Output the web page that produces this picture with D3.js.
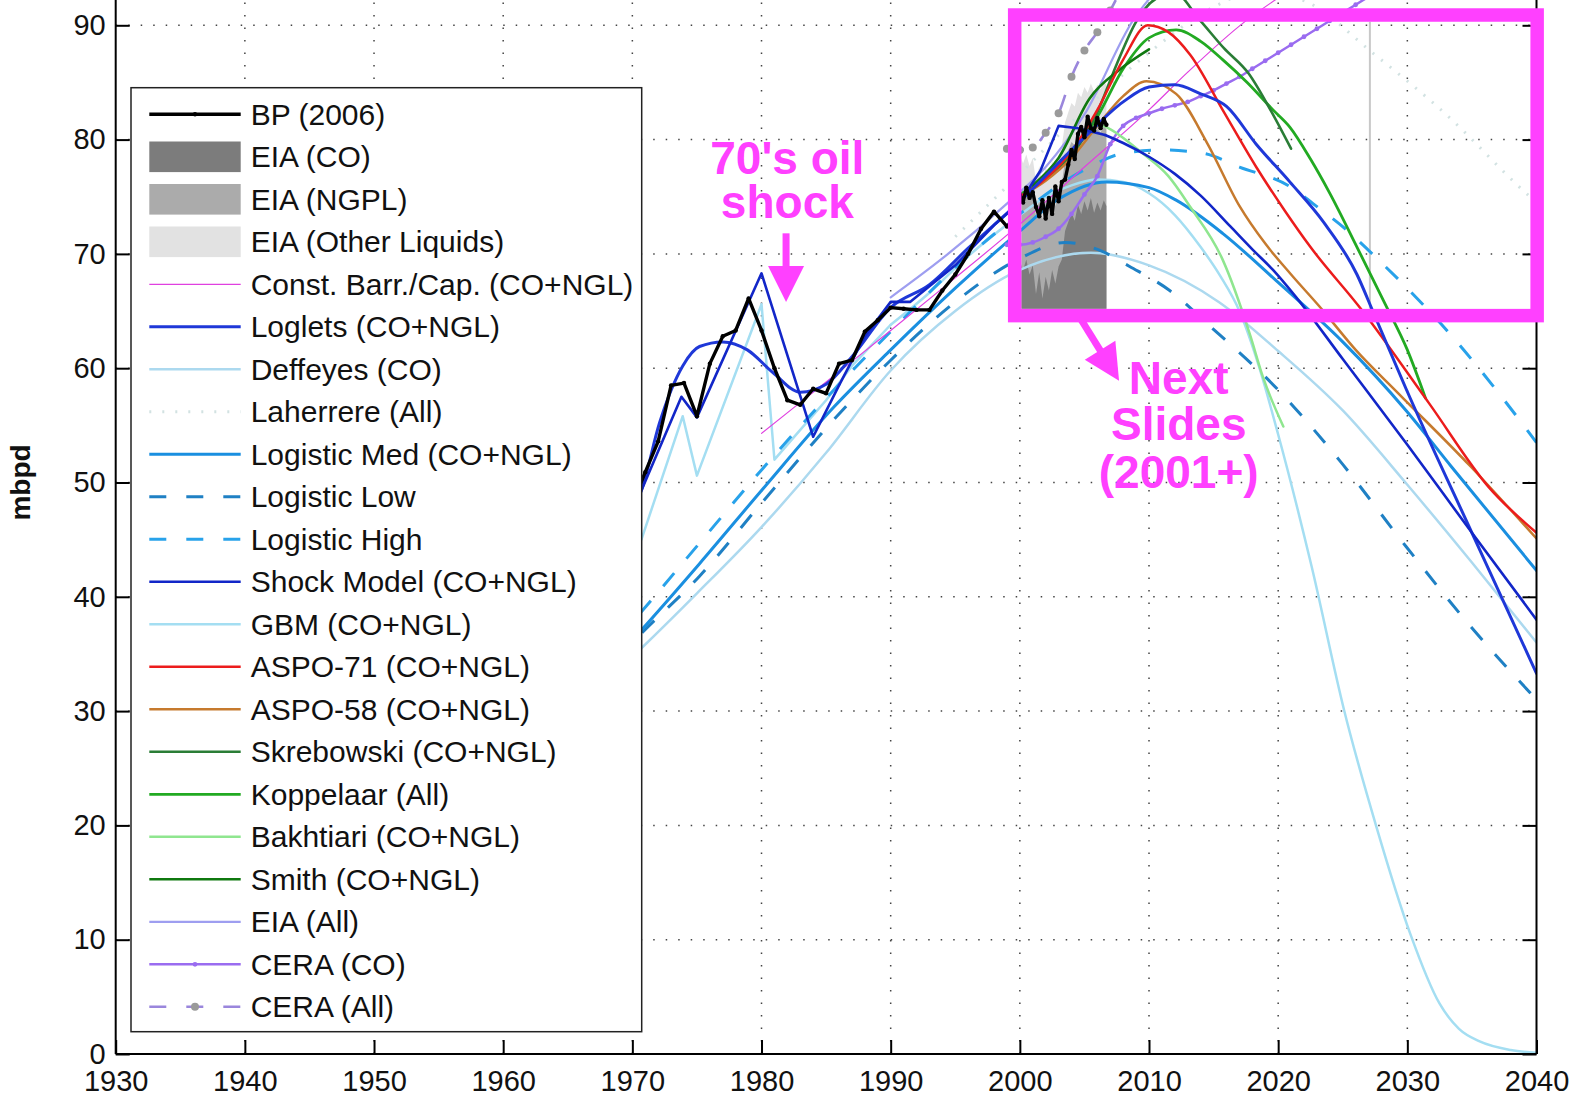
<!DOCTYPE html>
<html lang="en">
<head>
<meta charset="UTF-8">
<script src="https://d3js.org/d3.v7.min.js"></script>
<style>
    body { margin: 0; background: #fff; }
    text { font-family: "Liberation Sans", Arial, sans-serif; }
</style>
</head>
<body>
<svg id="chart" width="1590" height="1102"></svg>
<script>
// ---- axis ticks ----
const xTicks = [1930, 1940, 1950, 1960, 1970, 1980, 1990, 2000, 2010, 2020, 2030, 2040];
const yTicks = [0, 10, 20, 30, 40, 50, 60, 70, 80, 90];

// ---- legend order ----
const seriesNames = [
    "BP (2006)", "EIA (CO)", "EIA (NGPL)", "EIA (Other Liquids)",
    "Const. Barr./Cap. (CO+NGL)", "Loglets (CO+NGL)", "Deffeyes (CO)", "Laherrere (All)",
    "Logistic Med (CO+NGL)", "Logistic Low", "Logistic High", "Shock Model (CO+NGL)",
    "GBM (CO+NGL)", "ASPO-71 (CO+NGL)", "ASPO-58 (CO+NGL)", "Skrebowski (CO+NGL)",
    "Koppelaar (All)", "Bakhtiari (CO+NGL)", "Smith (CO+NGL)", "EIA (All)", "CERA (CO)", "CERA (All)"
];

// ---- data: [year, mbpd] ----
const bp = [[1965,31.8],[1966,34.6],[1967,37.1],[1968,40.4],[1969,43.6],[1970,48.1],[1971,50.9],[1972,53.6],
    [1973,58.5],[1974,58.7],[1975,55.8],[1976,60.4],[1977,62.8],[1978,63.3],[1979,66.1],[1980,63.3],[1981,60.0],
    [1982,57.2],[1983,56.8],[1984,58.2],[1985,57.8],[1986,60.4],[1987,60.7],[1988,63.2],[1989,64.2],[1990,65.3],
    [1991,65.2],[1992,65.1],[1993,65.1],[1994,66.8],[1995,68.2],[1996,70.0],[1997,72.2],[1998,73.7],[1999,72.4],
    [1999.5,73.0],[1999.75,73.8],[2000,75.2],[2000.25,74.5],[2000.5,75.8],[2000.75,74.9],[2001,75.4],[2001.25,74.1],
    [2001.5,73.3],[2001.75,74.7],[2002,73.1],[2002.25,74.9],[2002.5,73.5],[2002.75,75.9],[2003,74.6],[2003.25,76.3],
    [2003.5,76.5],[2003.75,77.8],[2004,79.1],[2004.25,78.3],[2004.5,80.5],[2004.75,81.1],[2005,80.2],[2005.25,82.0],
    [2005.5,81.0],[2005.75,80.8],[2006,81.9],[2006.25,81.0],[2006.5,81.8],[2006.7,81.3]];

const eiaQuarters = [1999.75,2000,2000.25,2000.5,2000.75,2001,2001.25,2001.5,2001.75,2002,2002.25,2002.5,2002.75,
    2003,2003.25,2003.5,2003.75,2004,2004.25,2004.5,2004.75,2005,2005.25,2005.5,2005.75,2006,2006.25,2006.5,2006.7];
const eiaCO = [69.0,69.4,68.6,69.5,68.2,69.0,66.5,68.4,66.1,68.0,66.8,68.6,67.4,68.9,69.5,72.0,72.8,73.6,72.9,
    74.3,73.5,74.6,73.8,74.9,73.6,74.5,73.8,74.7,74.2];
const eiaNGPL = [6.4,6.5,6.6,6.3,6.7,6.5,6.8,6.4,6.9,6.6,6.9,6.5,6.8,6.6,6.7,6.2,6.3,6.2,6.6,6.3,6.7,6.4,6.7,
    6.3,6.9,6.5,6.8,6.5,6.7];
const eiaOther = [2.7,2.8,2.7,2.9,2.8,2.9,3.0,2.9,3.1,3.0,3.1,3.0,3.2,3.1,3.2,3.3,3.3,3.4,3.4,3.5,3.5,3.6,3.6,
    3.7,3.7,3.8,3.8,3.9,3.9];

const constBarrCap = [[1980,54.3],[1985,58.8],[1990,63.3],[1995,67.9],[2000,72.6],[2005,77.6],[2010,82.6],
    [2013,85.9],[2017.4,90.3],[2020,92.4]];
const loglets = [[1965,40.5],[1970.7,49.3],[1972.1,55.2],[1973.9,60.2],[1975.2,61.9],[1977,62.3],[1978.9,61.6],
    [1980.9,59.6],[1983,57.9],[1985,58.6],[1987,61.0],[1990,65.3],[1993,67.3],[1996,70.5],[2000,74.6],[2005,80.2],
    [2008,83.3],[2010,84.6],[2012,84.8],[2014,84.0],[2016,82.9],[2018.3,79.6],[2020.9,76.3],[2023.5,72.8],
    [2026.1,68.2],[2027.4,64.8],[2029.9,58.2],[2035,45.6],[2040,33.3]];
const deffeyes = [[1965,29.5],[1970.7,35.5],[1975,40.3],[1980,46.1],[1985,52.6],[1990,59.8],[1995,65.0],
    [2000,68.6],[2005.5,70.1],[2010,69.0],[2015.4,65.8],[2020,61.5],[2025,56.3],[2030,49.8],[2035,43.0],[2040,36.0]];
const laherrere = [[1995,71.5],[2000,77.0],[2005,82.6],[2010,87.6],[2015,91.6],[2018.5,93.0],[2022.3,92.0],
    [2027.3,87.6],[2033,82.2],[2039.3,75.2],[2040,74.5]];
const logisticMed = [[1965,30.3],[1970.7,37.1],[1975.2,42.9],[1980,49.3],[1985.6,56.6],[1990,61.6],[1995,67.0],
    [2000,72.0],[2003,74.8],[2006.7,76.3],[2010,75.8],[2012.1,74.7],[2015.7,71.8],[2020,67.5],[2025,62.3],
    [2029.9,56.3],[2033.4,51.4],[2040,42.3]];
const logisticLow = [[1965,30.0],[1970.7,36.8],[1975.2,41.8],[1980,48.2],[1985.6,55.5],[1990,60.7],[1995,65.8],
    [2000,69.6],[2003.5,71.0],[2006.2,70.3],[2008.5,68.9],[2011.6,66.8],[2014.8,63.6],[2020,58.1],[2024.7,52.0],
    [2029.9,44.4],[2034.9,37.4],[2040,31.0]];
const logisticHigh = [[1965,31.5],[1970.7,38.7],[1975.2,44.7],[1980,51.1],[1985.6,58.1],[1990,63.2],[1995,68.8],
    [2000,73.5],[2004.9,77.3],[2008,78.8],[2011,79.1],[2014.2,78.8],[2017,77.6],[2020.9,75.9],[2022.7,74.4],
    [2025.6,71.8],[2027.1,70.2],[2029.9,67.1],[2033.3,63.0],[2036.6,58.5],[2040,53.5]];
const shockModel = [[1965,40.0],[1970.7,49.3],[1973.8,57.5],[1975,55.7],[1980,68.3],[1984,54.0],[1986,58.5],
    [1988,62.8],[1990,65.8],[1991.5,65.8],[1995,69.0],[1998,72.5],[2000,74.5],[2001.6,77.3],[2003,81.2],[2004.5,81.0],
    [2006.6,80.4],[2008,79.7],[2010,78.5],[2012,77.0],[2014,75.1],[2016.3,72.4],[2018,70.4],[2019.6,68.6],
    [2021.4,66.2],[2025,60.8],[2030,53.3],[2035,45.6],[2040,38.0]];
const gbm = [[1965,38.5],[1970.7,45.0],[1973.9,55.8],[1975.0,50.6],[1980.0,65.6],[1981.0,52.0],[1983,54.6],
    [1985,57.2],[1987,60.2],[1990,63.8],[1993,66.6],[1996,69.8],[2000,73.4],[2002,75.0],[2004,76.0],[2006,76.5],
    [2008,76.3],[2010,75.3],[2012,73.4],[2014,70.6],[2015.5,68.1],[2017,65.0],[2018.5,60.2],[2020,54.2],
    [2022.6,42.6],[2025.1,30.1],[2027.6,19.9],[2030.2,10.6],[2032.5,4.4],[2034,2.2],[2035.6,1.1],[2038,0.35],[2040,0.1]];
const aspo71 = [[2000,75.0],[2002,76.6],[2004,79.0],[2006,82.6],[2008,87.0],[2009.9,90.0],[2011.5,89.4],
    [2013.2,87.4],[2015.7,82.6],[2018.3,77.6],[2020.5,73.8],[2022.5,70.6],[2026.4,65.2],[2031.7,56.9],
    [2036.3,49.6],[2040,45.6]];
const aspo58 = [[2000,75.0],[2002,76.4],[2004,78.4],[2006,81.2],[2008,83.8],[2009.8,85.1],[2012.1,84.0],
    [2014.5,79.7],[2017.0,74.2],[2019,70.9],[2021,68.2],[2023.2,65.4],[2026,61.6],[2029.3,57.8],[2034.9,51.4],[2040,45.1]];
const skrebowski = [[2000,75.0],[2002,76.5],[2004,78.6],[2006,82.4],[2007.5,86.6],[2009,90.3],[2010.5,92.3],
    [2012,92.8],[2013.9,90.5],[2015.8,88.0],[2017.7,85.8],[2019.4,82.6],[2021.0,79.2]];
const koppelaar = [[2000,75.2],[2002,76.6],[2004,78.8],[2006,82.0],[2008,86.2],[2010,88.9],[2012.1,89.6],
    [2014,88.6],[2015.7,87.0],[2017.6,85.0],[2019.6,82.6],[2020.9,81.1],[2022.5,78.3],[2024,75.3],[2026.1,70.6],
    [2028.2,65.8],[2030,61.6],[2031.4,57.4]];
const bakhtiari = [[2005.5,81.6],[2006.7,81.1],[2009.5,78.8],[2011.5,76.8],[2013.2,74.1],[2015.7,69.5],
    [2017.8,63.0],[2018.8,59.3],[2020.4,54.9]];
const smith = [[2001,76.0],[2003,78.4],[2005.4,83.6],[2007.7,86.1],[2010.0,87.9]];
const eiaAll = [[1990,66.2],[1994,69.6],[1999,74.4],[2002,77.6],[2005,82.2],[2008.8,90.5],[2011,93.6]];
const ceraCO = [[1999,70.8],[2000,70.8],[2001,71.0],[2002,71.5],[2003,72.2],[2004,73.5],[2005,75.2],[2006,76.8],
    [2007,79.6],[2008,81.2],[2009,81.9],[2010,82.3],[2011,82.7],[2012,83.0],[2013,83.3],[2014,83.8],[2015,84.3],
    [2016,84.9],[2017,85.5],[2018,86.2],[2019,86.9],[2020,87.6],[2021,88.3],[2022,89.0],[2023,89.7],[2024,90.4],
    [2025,91.1],[2026,91.8],[2027,92.5]];
const ceraAll = [[1999,79.2],[2000,79.1],[2001,79.3],[2002,80.6],[2003,82.3],[2004,85.5],[2005,87.8],
    [2006,89.4],[2007,91.3],[2008,93.5]];

const markerYear = 2027.1;

// annotation anchors in data units
const focusBox = { from: 1999.6, to: 2040.05, low: 64.6, high: 90.9 };
const oilShock = { year: 1982.0, lines: ["70's oil", "shock"], baselines: [77.0, 73.1],
                   arrowFrom: [1981.9, 71.8], arrowTo: [1981.9, 65.8] };
const nextSlides = { year: 2012.3, lines: ["Next", "Slides", "(2001+)"], baselines: [57.7, 53.75, 49.55],
                     arrowFrom: [2004.66, 64.4], arrowTo: [2007.68, 58.9] };

// ---- styles ----
const seriesData = {
    "BP (2006)": bp, "Const. Barr./Cap. (CO+NGL)": constBarrCap, "Loglets (CO+NGL)": loglets,
    "Deffeyes (CO)": deffeyes, "Laherrere (All)": laherrere, "Logistic Med (CO+NGL)": logisticMed,
    "Logistic Low": logisticLow, "Logistic High": logisticHigh, "Shock Model (CO+NGL)": shockModel,
    "GBM (CO+NGL)": gbm, "ASPO-71 (CO+NGL)": aspo71, "ASPO-58 (CO+NGL)": aspo58,
    "Skrebowski (CO+NGL)": skrebowski, "Koppelaar (All)": koppelaar, "Bakhtiari (CO+NGL)": bakhtiari,
    "Smith (CO+NGL)": smith, "EIA (All)": eiaAll, "CERA (CO)": ceraCO, "CERA (All)": ceraAll
};
// linearUntil: the historical (jagged) part is drawn straight, the forecast part smooth
const styles = {
    "BP (2006)": { color: "#000", width: 3.4, dot: 2.2, linearUntil: 2100 },
    "EIA (CO)": { patch: "#7c7c7c" },
    "EIA (NGPL)": { patch: "#ababab" },
    "EIA (Other Liquids)": { patch: "#e2e2e2" },
    "Const. Barr./Cap. (CO+NGL)": { color: "#e040e0", width: 1.2 },
    "Loglets (CO+NGL)": { color: "#1f38d8", width: 3 },
    "Deffeyes (CO)": { color: "#acd9ef", width: 2.5 },
    "Laherrere (All)": { color: "#d2e2e2", width: 3, dash: "2,9" },
    "Logistic Med (CO+NGL)": { color: "#1a8fe0", width: 3 },
    "Logistic Low": { color: "#1f80c4", width: 3, dash: "17,19" },
    "Logistic High": { color: "#28a2ea", width: 3, dash: "17,19" },
    "Shock Model (CO+NGL)": { color: "#1226c8", width: 2.6, linearUntil: 2006.6 },
    "GBM (CO+NGL)": { color: "#a4def2", width: 2.5, linearUntil: 1990 },
    "ASPO-71 (CO+NGL)": { color: "#ec1c1c", width: 2.5 },
    "ASPO-58 (CO+NGL)": { color: "#c67a2e", width: 2.5 },
    "Skrebowski (CO+NGL)": { color: "#2a7d36", width: 2.6 },
    "Koppelaar (All)": { color: "#22aa22", width: 2.8 },
    "Bakhtiari (CO+NGL)": { color: "#8fe68f", width: 2.5 },
    "Smith (CO+NGL)": { color: "#0f780f", width: 2.6 },
    "EIA (All)": { color: "#9e9ef0", width: 2.2 },
    "CERA (CO)": { color: "#9a6cf0", width: 2.5, dot: 2.4 },
    "CERA (All)": { color: "#9a86dc", width: 2.6, dash: "17,19", dot: 4, dotColor: "#9a9a9a" }
};
const drawOrder = ["Laherrere (All)", "Deffeyes (CO)", "GBM (CO+NGL)", "Logistic Low", "Logistic Med (CO+NGL)",
    "Logistic High", "Const. Barr./Cap. (CO+NGL)", "EIA (All)", "CERA (All)", "CERA (CO)", "Bakhtiari (CO+NGL)",
    "Koppelaar (All)", "Skrebowski (CO+NGL)", "Smith (CO+NGL)", "ASPO-58 (CO+NGL)", "ASPO-71 (CO+NGL)",
    "Loglets (CO+NGL)", "Shock Model (CO+NGL)", "BP (2006)"];

const pink = "#ff40ff";
const svg = d3.select("#chart");
svg.append("rect").attr("width", 1590).attr("height", 1102).attr("fill", "#fff");

const x = d3.scaleLinear().domain([1930, 2040]).range([115.7, 1536.5]);
const y = d3.scaleLinear().domain([0, 100]).range([1054, -89]);

// grid
const grid = svg.append("g").attr("stroke", "#444").attr("stroke-width", 1.5)
    .attr("stroke-dasharray", "1.5,11");
grid.selectAll(".gx").data(xTicks.slice(1, -1)).enter().append("line")
    .attr("x1", d => x(d)).attr("x2", d => x(d)).attr("y1", y(0)).attr("y2", y(100));
grid.selectAll(".gy").data(yTicks.slice(1)).enter().append("line")
    .attr("x1", x(1930)).attr("x2", x(2040)).attr("y1", d => y(d)).attr("y2", d => y(d));

// clip paths
const boxStroke = 13.5;
const bx0 = x(focusBox.from), bx1 = x(focusBox.to), by0 = y(focusBox.high), by1 = y(focusBox.low);
const defs = svg.append("defs");
defs.append("clipPath").attr("id", "plot").append("rect")
    .attr("x", x(1930)).attr("y", y(100)).attr("width", x(2040) - x(1930)).attr("height", y(0) - y(100));
defs.append("clipPath").attr("id", "inset").append("rect")
    .attr("x", bx0 + boxStroke / 2).attr("y", by0 + boxStroke / 2)
    .attr("width", bx1 - bx0 - boxStroke).attr("height", by1 - by0 - boxStroke);

// EIA stacked areas (inside the inset)
const stacked = eiaQuarters.map((t, i) => ({
    t, co: eiaCO[i], ngpl: eiaCO[i] + eiaNGPL[i], all: eiaCO[i] + eiaNGPL[i] + eiaOther[i]
}));
const inset = svg.append("g").attr("clip-path", "url(#inset)");
[["all", "EIA (Other Liquids)"], ["ngpl", "EIA (NGPL)"], ["co", "EIA (CO)"]].forEach(([k, name]) => {
    inset.append("path").datum(stacked)
        .attr("d", d3.area().x(d => x(d.t)).y0(y(0)).y1(d => y(d[k])))
        .attr("fill", styles[name].patch);
});
inset.append("line").attr("x1", x(markerYear)).attr("x2", x(markerYear))
    .attr("y1", y(0)).attr("y2", y(100)).attr("stroke", "#c8c8c8").attr("stroke-width", 2);

// series lines
const plot = svg.append("g").attr("clip-path", "url(#plot)");
function drawPath(data, s, curve) {
    const line = d3.line().x(d => x(d[0])).y(d => y(d[1])).curve(curve);
    plot.append("path").datum(data)
        .attr("d", line).attr("fill", "none")
        .attr("stroke", s.color).attr("stroke-width", s.width)
        .attr("stroke-linejoin", "round").attr("stroke-linecap", s.dash ? "butt" : "round")
        .attr("stroke-dasharray", s.dash || null);
}
drawOrder.forEach(name => {
    const s = styles[name], data = seriesData[name];
    if (s.linearUntil) {
        drawPath(data.filter(d => d[0] <= s.linearUntil), s, d3.curveLinear);
        const rest = data.filter(d => d[0] >= s.linearUntil);
        if (rest.length > 1) drawPath(rest, s, d3.curveMonotoneX);
    } else {
        drawPath(data, s, d3.curveMonotoneX);
    }
    if (s.dot) {
        plot.selectAll(null).data(data).enter().append("circle")
            .attr("cx", d => x(d[0])).attr("cy", d => y(d[1])).attr("r", s.dot)
            .attr("fill", s.dotColor || s.color);
    }
});

// axes
const axisFont = g => g.attr("font-family", "'Liberation Sans', Arial, sans-serif").attr("font-size", 29);
const styleAxis = g => {
    g.select(".domain").remove();
    g.selectAll(".tick line").attr("stroke", "#000").attr("stroke-width", 2);
    g.selectAll(".tick text").attr("fill", "#111");
};
svg.append("g").attr("transform", `translate(0,${y(0)})`)
    .call(d3.axisBottom(x).tickValues(xTicks).tickFormat(d3.format("d")).tickSizeInner(-14).tickSizeOuter(0).tickPadding(16))
    .call(axisFont).call(styleAxis);
svg.append("g").attr("transform", `translate(${x(1930)},0)`)
    .call(d3.axisLeft(y).tickValues(yTicks).tickSizeInner(-14).tickSizeOuter(0).tickPadding(10))
    .call(axisFont).call(styleAxis);
svg.append("g").attr("transform", `translate(${x(2040)},0)`)
    .call(d3.axisRight(y).tickValues(yTicks).tickFormat("").tickSizeInner(-14).tickSizeOuter(0))
    .call(styleAxis);
const frame = svg.append("g").attr("stroke", "#000").attr("stroke-width", 2);
frame.append("line").attr("x1", x(1930)).attr("x2", x(2040)).attr("y1", y(0)).attr("y2", y(0));
frame.append("line").attr("x1", x(1930)).attr("x2", x(1930)).attr("y1", y(0)).attr("y2", y(100));
frame.append("line").attr("x1", x(2040)).attr("x2", x(2040)).attr("y1", y(0)).attr("y2", y(100));

svg.append("text")
    .attr("transform", `translate(30,${(y(0) + y(100)) / 2}) rotate(-90)`)
    .attr("text-anchor", "middle").attr("font-size", 28).attr("font-weight", "bold")
    .attr("fill", "#111").text("mbpd");

// legend
const lg = { x: 131, y: 87.7, w: 510.7, h: 944, row0: 114.3, step: 42.5, s0: 149.3, s1: 240.7, tx: 250.7 };
const legend = svg.append("g");
legend.append("rect").attr("x", lg.x).attr("y", lg.y).attr("width", lg.w).attr("height", lg.h)
    .attr("fill", "#fff").attr("stroke", "#222").attr("stroke-width", 1.5);
seriesNames.forEach((name, i) => {
    const s = styles[name], cy = lg.row0 + i * lg.step;
    if (s.patch) {
        legend.append("rect").attr("x", lg.s0).attr("y", cy - 15.3).attr("width", lg.s1 - lg.s0)
            .attr("height", 30.6).attr("fill", s.patch);
    } else {
        legend.append("line").attr("x1", lg.s0).attr("x2", lg.s1).attr("y1", cy).attr("y2", cy)
            .attr("stroke", s.color).attr("stroke-width", s.width)
            .attr("stroke-dasharray", s.dash ? (name === "Laherrere (All)" ? "2,11" : "17,20") : null);
        if (s.dot) {
            legend.append("circle").attr("cx", (lg.s0 + lg.s1) / 2).attr("cy", cy)
                .attr("r", s.dot).attr("fill", s.dotColor || s.color);
        }
    }
    legend.append("text").attr("x", lg.tx).attr("y", cy + 10.5)
        .attr("font-size", 30).attr("fill", "#111").text(name);
});

// annotations
const notes = svg.append("g");
notes.append("rect").attr("x", bx0).attr("y", by0).attr("width", bx1 - bx0).attr("height", by1 - by0)
    .attr("fill", "none").attr("stroke", pink).attr("stroke-width", boxStroke);

function arrow(from, to) {
    const x1 = x(from[0]), y1 = y(from[1]), x2 = x(to[0]), y2 = y(to[1]);
    const len = Math.hypot(x2 - x1, y2 - y1), ux = (x2 - x1) / len, uy = (y2 - y1) / len;
    const head = 36, half = 18;
    const hx = x2 - ux * head, hy = y2 - uy * head;
    notes.append("line").attr("x1", x1).attr("y1", y1).attr("x2", hx + ux * 2).attr("y2", hy + uy * 2)
        .attr("stroke", pink).attr("stroke-width", 7);
    notes.append("polygon")
        .attr("points", [[x2, y2], [hx - uy * half, hy + ux * half], [hx + uy * half, hy - ux * half]]
            .map(p => p.join(",")).join(" "))
        .attr("fill", pink);
}
[oilShock, nextSlides].forEach(a => {
    a.lines.forEach((t, i) => {
        notes.append("text").attr("x", x(a.year)).attr("y", y(a.baselines[i]))
            .attr("text-anchor", "middle").attr("font-size", 46).attr("font-weight", "bold")
            .attr("fill", pink).text(t);
    });
    arrow(a.arrowFrom, a.arrowTo);
});
</script>
</body>
</html>
